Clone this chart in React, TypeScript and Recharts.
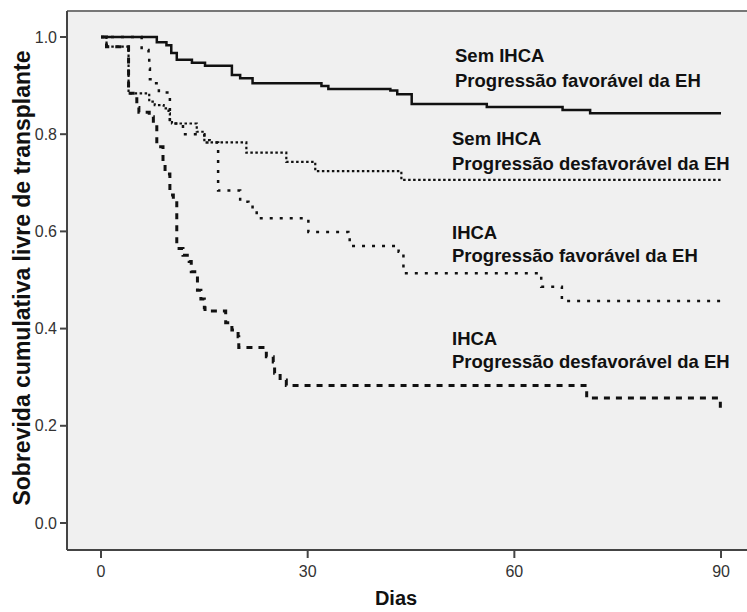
import React from 'react';
import { LineChart, Line, XAxis, YAxis, CartesianGrid, ReferenceLine } from 'recharts';

const xTicks = [0, 30, 60, 90];
const yTicks = [0, 0.2, 0.4, 0.6, 0.8, 1.0];
const xDomain: [number, number] = [-4.935, 93.77];
const yDomain: [number, number] = [-0.0556, 1.0535];

// Sem IHCA - Progressão favorável da EH (solid)
const semFavDays = [0, 8.1, 9.5, 10.2, 11.0, 13.2, 15.1, 19.0, 20.2, 22.0, 32.0, 33.0, 42.0, 43.0, 45.1, 56.0, 67.0, 71.0, 90];
const semFavSurv = [1.0, 0.989, 0.983, 0.967, 0.953, 0.947, 0.941, 0.922, 0.915, 0.905, 0.899, 0.893, 0.890, 0.882, 0.862, 0.856, 0.850, 0.843, 0.843];

// Sem IHCA - Progressão desfavorável da EH (fine dots)
const semDesDays = [0, 0.8, 4.0, 7.0, 7.8, 9.1, 9.8, 10.0, 10.3, 13.9, 15.0, 15.8, 21.1, 26.9, 31.1, 43.6, 90];
const semDesSurv = [1.0, 0.98, 0.884, 0.867, 0.860, 0.853, 0.843, 0.829, 0.822, 0.805, 0.788, 0.783, 0.762, 0.743, 0.724, 0.706, 0.706];

// IHCA - Progressão favorável da EH (sparse dots)
const ihcaFavDays = [0, 5.9, 6.9, 7.0, 7.1, 8.0, 8.4, 10.0, 11.9, 15.0, 17.0, 20.2, 21.4, 22.0, 22.6, 30.1, 35.9, 36.1, 43.2, 43.9, 63.9, 66.9, 90];
const ihcaFavSurv = [1.0, 0.973, 0.956, 0.935, 0.913, 0.905, 0.886, 0.822, 0.800, 0.783, 0.684, 0.661, 0.656, 0.644, 0.627, 0.599, 0.593, 0.570, 0.558, 0.514, 0.486, 0.457, 0.457];

// IHCA - Progressão desfavorável da EH (dashed)
const ihcaDesDays = [0, 0.8, 4.0, 5.2, 5.5, 7.0, 7.6, 8.1, 9.0, 9.3, 10.0, 10.5, 11.0, 11.9, 12.8, 13.1, 14.0, 14.5, 15.0, 15.1, 18.1, 19.0, 19.9, 20.0, 24.0, 25.0, 25.2, 26.0, 26.9, 70.5, 89.9, 90];
const ihcaDesSurv = [1.0, 0.98, 0.884, 0.855, 0.845, 0.836, 0.820, 0.774, 0.740, 0.718, 0.675, 0.665, 0.565, 0.551, 0.538, 0.517, 0.479, 0.461, 0.443, 0.436, 0.412, 0.397, 0.383, 0.361, 0.342, 0.331, 0.308, 0.294, 0.283, 0.257, 0.237, 0.237];

const groupLines = ['Sem IHCA', 'Sem IHCA', 'IHCA', 'IHCA'];
const progLines = [
  'Progressão favorável da EH',
  'Progressão desfavorável da EH',
  'Progressão favorável da EH',
  'Progressão desfavorável da EH',
];

const toData = (days: number[], surv: number[]) => days.map((t, i) => ({ t, s: surv[i] }));

const font = '"Liberation Sans", Arial, Helvetica, sans-serif';

const labelPos = [
  { x: 455, y1: 62, y2: 87 },
  { x: 452, y1: 145, y2: 170 },
  { x: 452, y1: 239, y2: 262 },
  { x: 452, y1: 345, y2: 368 },
];

export default function App() {
  const axisStroke = '#444';
  return (
    <div style={{ position: 'absolute', left: 0, top: 0, width: 747, height: 612, background: '#fff' }}>
      <LineChart width={747} height={612} margin={{ top: 11, right: 0, bottom: 0, left: 0 }}>
        <CartesianGrid horizontal={false} vertical={false} fill="#f0f0f0" fillOpacity={1} />
        <XAxis
          type="number"
          dataKey="t"
          domain={xDomain}
          ticks={xTicks}
          allowDataOverflow
          height={62}
          axisLine={{ stroke: axisStroke, strokeWidth: 2 }}
          tickLine={{ stroke: axisStroke, strokeWidth: 2 }}
          tickSize={8}
          tickMargin={8}
          tick={{ fill: '#333', fontSize: 16, fontFamily: font }}
        />
        <YAxis
          type="number"
          dataKey="s"
          domain={yDomain}
          ticks={yTicks}
          allowDataOverflow
          width={67}
          axisLine={{ stroke: axisStroke, strokeWidth: 2 }}
          tickLine={{ stroke: axisStroke, strokeWidth: 2 }}
          tickSize={7}
          tickMargin={3}
          tickFormatter={(v: number) => v.toFixed(1)}
          tick={{ fill: '#333', fontSize: 16, fontFamily: font }}
        />
        <ReferenceLine y={yDomain[1]} stroke="#777" strokeWidth={2} ifOverflow="visible" />
        <Line data={toData(semFavDays, semFavSurv)} dataKey="s" type="stepAfter" stroke="#111" strokeWidth={2.5} dot={false} isAnimationActive={false} />
        <Line data={toData(semDesDays, semDesSurv)} dataKey="s" type="stepAfter" stroke="#111" strokeWidth={2.2} strokeDasharray="2.5 2.5" dot={false} isAnimationActive={false} />
        <Line data={toData(ihcaFavDays, ihcaFavSurv)} dataKey="s" type="stepAfter" stroke="#111" strokeWidth={2.5} strokeDasharray="3 7" dot={false} isAnimationActive={false} />
        <Line data={toData(ihcaDesDays, ihcaDesSurv)} dataKey="s" type="stepAfter" stroke="#111" strokeWidth={3} strokeDasharray="6 6" dot={false} isAnimationActive={false} />
      </LineChart>
      <svg width={747} height={612} style={{ position: 'absolute', left: 0, top: 0, pointerEvents: 'none' }}>
        {labelPos.map((p, i) => (
          <g key={i} fontFamily={font} fontWeight="bold" fontSize={18.5} fill="#111">
            <text x={p.x} y={p.y1}>{groupLines[i]}</text>
            <text x={p.x} y={p.y2}>{progLines[i]}</text>
          </g>
        ))}
        <text
          x={22}
          y={278}
          transform="rotate(-90 22 278)"
          textAnchor="middle"
          dominantBaseline="central"
          fontFamily={font}
          fontWeight="bold"
          fontSize={23}
          fill="#111"
        >
          Sobrevida cumulativa livre de transplante
        </text>
        <text x={396} y={605} textAnchor="middle" fontFamily={font} fontWeight="bold" fontSize={20} fill="#111">
          Dias
        </text>
      </svg>
    </div>
  );
}
